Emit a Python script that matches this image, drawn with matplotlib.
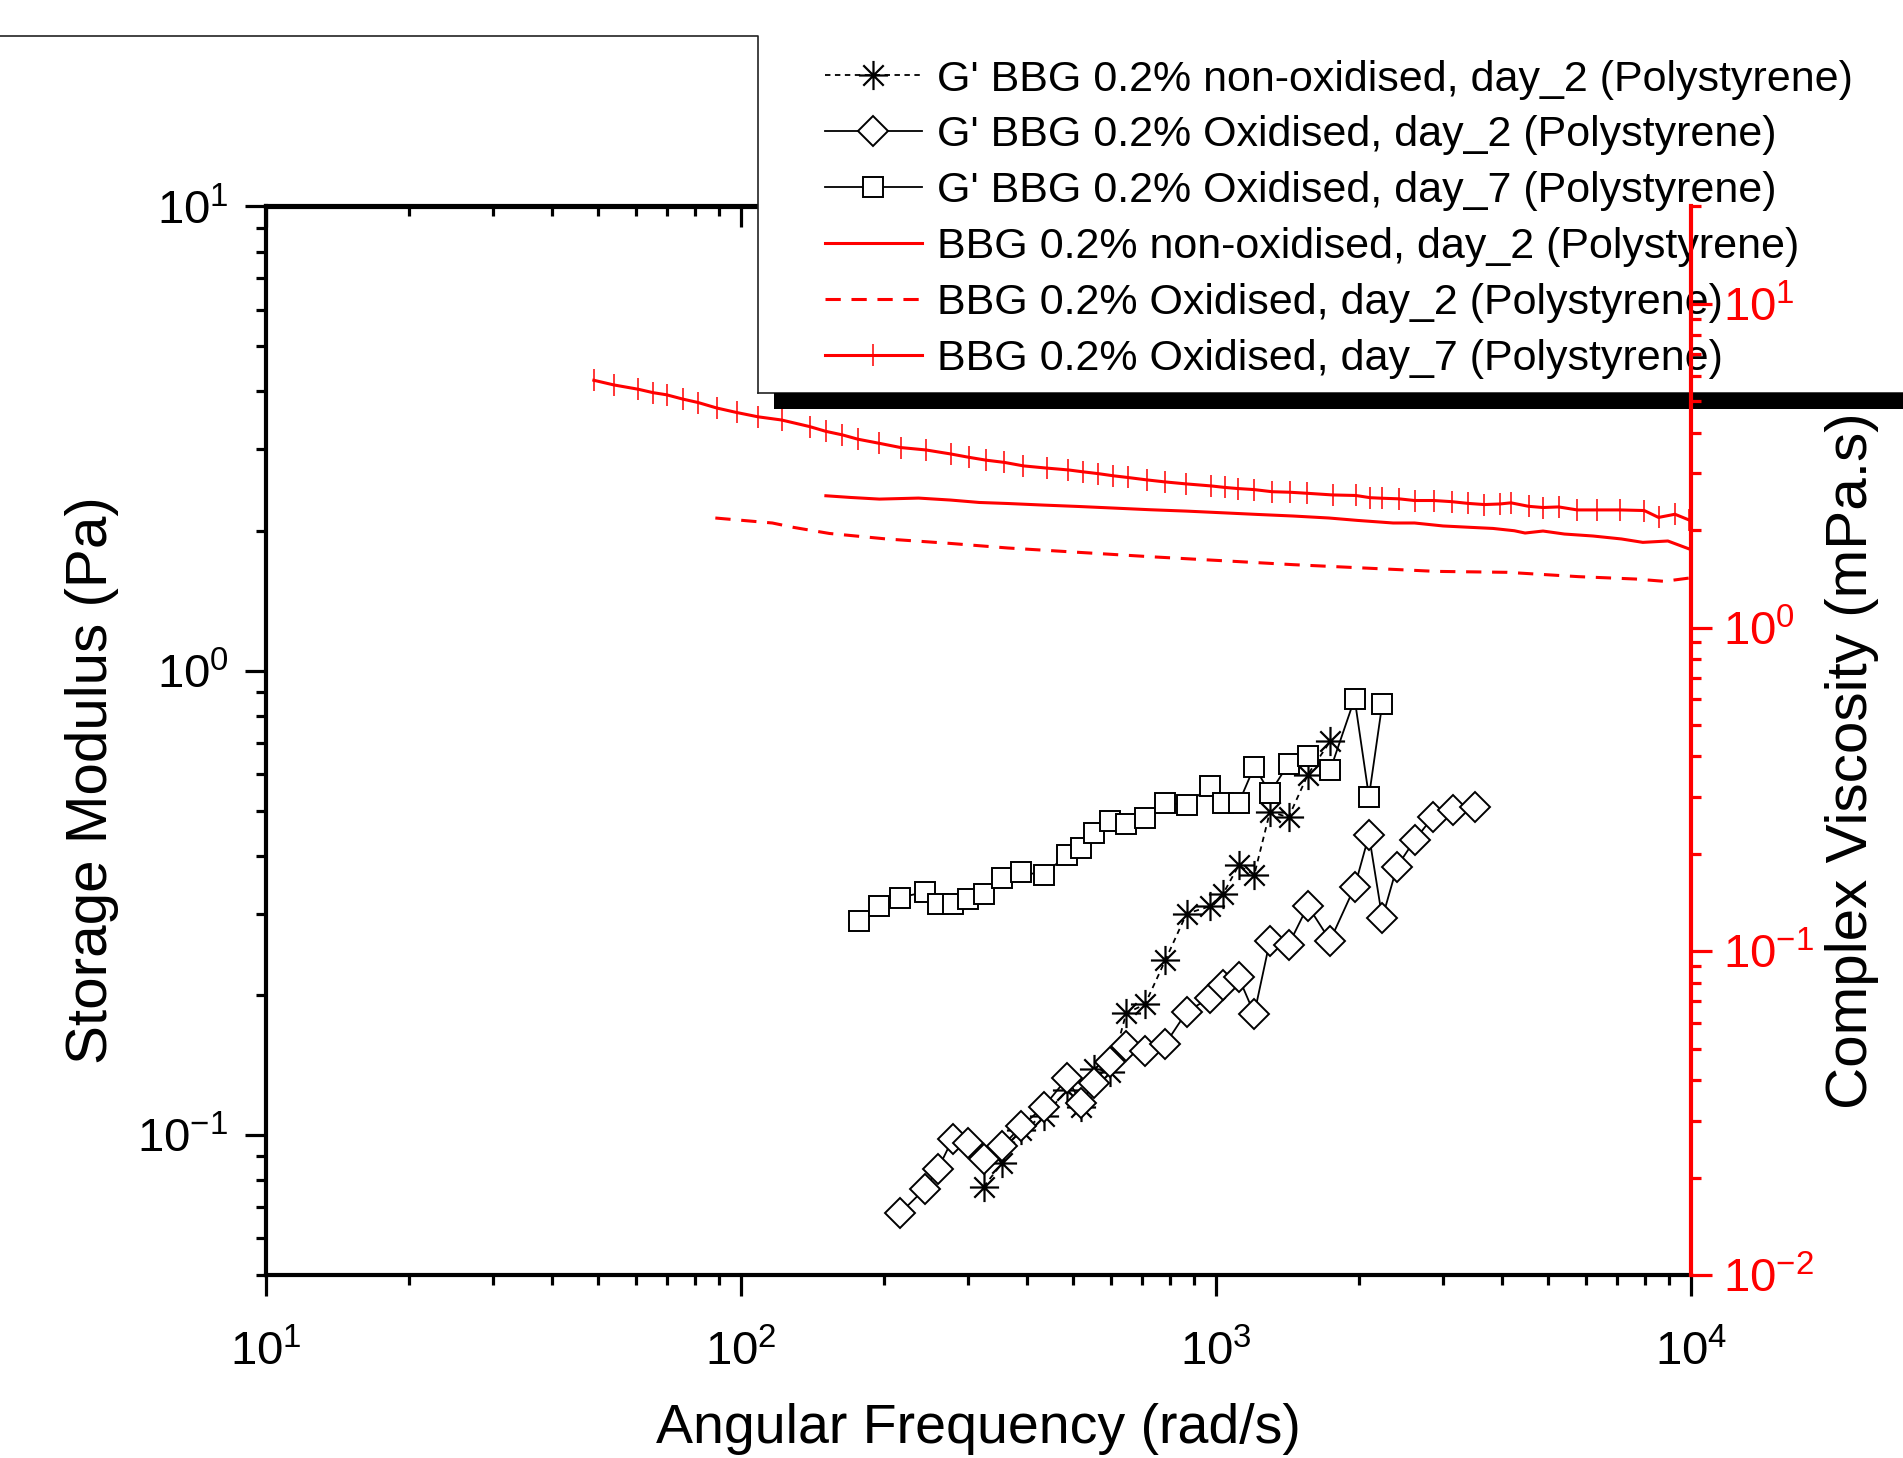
import numpy as np
import matplotlib
matplotlib.use('Agg')
import matplotlib.pyplot as plt
from matplotlib.path import Path
from matplotlib.lines import Line2D
from matplotlib.patches import Rectangle
from matplotlib.ticker import LogLocator, NullFormatter

plt.rcParams['font.family'] = ['Liberation Sans', 'DejaVu Sans']
plt.rcParams['mathtext.default'] = 'regular'
plt.rcParams['axes.unicode_minus'] = False

# ---- storage modulus G' (Pa) ----
w_star = [324, 355, 389, 434, 486, 520, 553, 599, 647, 709, 782, 867, 970, 1035,
          1116, 1204, 1299, 1422, 1561, 1739]
g_star = [0.0774, 0.0872, 0.1025, 0.110, 0.125, 0.115, 0.139, 0.137, 0.183, 0.1915,
          0.238, 0.300, 0.311, 0.331, 0.381, 0.364, 0.497, 0.484, 0.598, 0.705]

w_dia = [216, 244, 260, 279, 300, 324, 355, 389, 434, 486, 520, 553, 599, 647, 709,
         782, 867, 970, 1035, 1116, 1204, 1299, 1422, 1561, 1739, 1958, 2099, 2239,
         2405, 2623, 2859, 3151, 3511]
g_dia = [0.0679, 0.0767, 0.0847, 0.0982, 0.0960, 0.0888, 0.0948, 0.1045, 0.1152,
         0.1327, 0.1173, 0.1293, 0.1438, 0.1557, 0.1516, 0.1571, 0.1842, 0.1978,
         0.2103, 0.2188, 0.1826, 0.2625, 0.2571, 0.3118, 0.2625, 0.3424, 0.4427,
         0.2935, 0.3790, 0.4328, 0.4839, 0.5012, 0.5102]

w_sq = [177, 195, 216, 244, 260, 279, 300, 324, 355, 389, 434, 486, 520, 553, 599,
        647, 709, 782, 867, 970, 1035, 1116, 1204, 1299, 1422, 1561, 1739, 1958,
        2099, 2239]
g_sq = [0.289, 0.312, 0.325, 0.334, 0.314, 0.315, 0.322, 0.330, 0.358, 0.368, 0.364,
        0.402, 0.415, 0.447, 0.474, 0.467, 0.482, 0.520, 0.515, 0.564, 0.519, 0.519,
        0.622, 0.546, 0.631, 0.654, 0.611, 0.871, 0.536, 0.850]

# ---- complex viscosity (mPa.s) ----
w_n2 = [150.9, 170.3, 195.6, 236.5, 276.3, 317.3, 364.6, 433.4, 515.2, 612.3, 727.8,
        865, 1029, 1223, 1454, 1729, 1986, 2360, 2618, 3007, 3453, 3830, 4248, 4474,
        4880, 5413, 6216, 7138, 7917, 8940, 9913]
eta_n2 = [2.555, 2.524, 2.495, 2.513, 2.478, 2.436, 2.418, 2.391, 2.367, 2.340, 2.313,
          2.291, 2.264, 2.237, 2.212, 2.181, 2.144, 2.105, 2.105, 2.061, 2.040, 2.025,
          1.992, 1.960, 1.988, 1.946, 1.919, 1.879, 1.834, 1.852, 1.750]

w_o2 = [88.3, 116.4, 129.1, 153.5, 202.4, 276.3, 364.6, 515.2, 727.8, 1029, 1454,
        2055, 2904, 4105, 5800, 7649, 8785, 9913]
eta_o2 = [2.181, 2.105, 2.040, 1.954, 1.879, 1.820, 1.762, 1.708, 1.656, 1.610, 1.565,
          1.528, 1.492, 1.482, 1.437, 1.413, 1.390, 1.423]

w_o7 = [49.0, 54.0, 60.8, 65.3, 69.7, 75.5, 81.2, 88.9, 97.9, 108.6, 121.7, 139.4,
        150.9, 163.4, 176.3, 195.6, 216.9, 244.8, 276.3, 301.4, 328.6, 358.2, 393.2,
        441, 489.1, 524.2, 565.5, 608, 651.7, 715.5, 780.1, 865, 976.6, 1046, 1110,
        1202, 1311, 1429, 1558, 1759, 1970, 2111, 2240, 2426, 2618, 2874, 3134, 3393,
        3673, 3963, 4176, 4553, 4880, 5264, 5761, 6326, 7089, 7973, 8544, 9252, 9913]
eta_o7 = [5.81, 5.62, 5.45, 5.32, 5.24, 5.08, 4.96, 4.77, 4.62, 4.48, 4.38, 4.18, 4.04,
          3.94, 3.82, 3.71, 3.60, 3.54, 3.44, 3.36, 3.29, 3.24, 3.16, 3.11, 3.07, 3.03,
          2.99, 2.945, 2.91, 2.86, 2.82, 2.78, 2.74, 2.71, 2.69, 2.67, 2.63, 2.62, 2.60,
          2.57, 2.56, 2.52, 2.51, 2.50, 2.47, 2.47, 2.45, 2.42, 2.40, 2.41, 2.43, 2.37,
          2.35, 2.36, 2.31, 2.31, 2.31, 2.30, 2.19, 2.24, 2.15]

labels = ["G' BBG 0.2% non-oxidised, day_2 (Polystyrene)",
          "G' BBG 0.2% Oxidised, day_2 (Polystyrene)",
          "G' BBG 0.2% Oxidised, day_7 (Polystyrene)",
          "BBG 0.2% non-oxidised, day_2 (Polystyrene)",
          "BBG 0.2% Oxidised, day_2 (Polystyrene)",
          "BBG 0.2% Oxidised, day_7 (Polystyrene)"]

W, H = 1903, 1458
fig = plt.figure(figsize=(W / 100, H / 100), dpi=100)
ax = fig.add_axes([266 / W, 1 - 1275 / H, 1425 / W, 1068.5 / H])
ax2 = ax.twinx()
ax2.set_zorder(1)

# asterisk marker (origin style star)
star = Path([(-1, 0), (1, 0), (0, -1), (0, 1), (-0.7, -0.7), (0.7, 0.7), (-0.7, 0.7), (0.7, -0.7)],
            [Path.MOVETO, Path.LINETO] * 4)

h1, = ax.plot(w_star, g_star, color='k', lw=1.3, dashes=(3, 2.5), marker=star, ms=21,
              mew=1.6, mfc='none', mec='k')
h2, = ax.plot(w_dia, g_dia, color='k', lw=1.3, marker='D', ms=15, mfc='white',
              mec='k', mew=1.4)
h3, = ax.plot(w_sq, g_sq, color='k', lw=1.3, marker='s', ms=15, mfc='white',
              mec='k', mew=1.4)

r1, = ax2.plot(w_n2, eta_n2, color='red', lw=2.2)
r2, = ax2.plot(w_o2, eta_o2, color='red', lw=2.2, dashes=(5, 3.5))
r3, = ax2.plot(w_o7, eta_o7, color='red', lw=2.2, marker='|', ms=15.5, mew=1.1)

ax.set_xscale('log')
ax.set_yscale('log')
ax.set_xlim(10, 1e4)
ax.set_ylim(0.05, 10)
ax2.set_yscale('log')
ax2.set_ylim(0.01, 20)

for a in (ax.xaxis, ax.yaxis, ax2.yaxis):
    a.set_major_locator(LogLocator(base=10, numticks=20))
    a.set_minor_locator(LogLocator(base=10, subs=np.arange(2, 10), numticks=100))
    a.set_minor_formatter(NullFormatter())

ax.tick_params(axis='both', which='both', direction='out', top=False, right=False,
               labelsize=34, width=2.3, colors='k')
ax.tick_params(which='major', length=15)
ax.tick_params(which='minor', length=7.5)
ax.tick_params(axis='x', pad=25)
ax.tick_params(axis='y', pad=12)

ax2.tick_params(axis='y', which='both', direction='out', colors='red', labelsize=34,
                width=2.3, pad=8)
ax2.tick_params(which='major', length=15)
ax2.tick_params(which='minor', length=7.5)

for s in ['left', 'bottom', 'top']:
    ax.spines[s].set_linewidth(3)
ax.spines['right'].set_visible(False)
for s in ['left', 'bottom', 'top']:
    ax2.spines[s].set_visible(False)
ax2.spines['right'].set_color('red')
ax2.spines['right'].set_linewidth(3)

# top axis with inward ticks
sec = ax.secondary_xaxis('top')
sec.xaxis.set_minor_locator(LogLocator(base=10, subs=np.arange(2, 10), numticks=100))
sec.xaxis.set_minor_formatter(NullFormatter())
sec.tick_params(axis='x', which='both', direction='in', labeltop=False, width=2.3)
sec.tick_params(which='major', length=15)
sec.tick_params(which='minor', length=7.5)
sec.spines['top'].set_linewidth(3)

ax.set_xlabel('Angular Frequency (rad/s)', fontsize=40)
ax.xaxis.set_label_coords(0.5, -0.12)
ax.set_ylabel('Storage Modulus (Pa)', fontsize=42)
ax.yaxis.set_label_coords(-0.103, 0.463)
ax2.set_ylabel('Complex Viscosity (mPa.s)', fontsize=42, color='k')
ax2.yaxis.set_label_coords(1.094, 0.481)

# legend box with shadow, as in the original export
fig.add_artist(Rectangle((758 / W, 1 - 392.5 / H), (W - 758) / W, (392.5 - 36) / H,
                         transform=fig.transFigure, facecolor='white', edgecolor='none',
                         zorder=0.5))
fig.add_artist(Line2D([0, 758 / W, 758 / W], [1 - 36 / H, 1 - 36 / H, 1 - 392.5 / H],
                      transform=fig.transFigure, color='#222222', lw=1.2, zorder=0.55))
fig.add_artist(Line2D([758 / W, 1], [1 - 392.5 / H, 1 - 392.5 / H],
                      transform=fig.transFigure, color='#222222', lw=1.2, zorder=0.55))
fig.add_artist(Rectangle((774 / W, 1 - 409 / H), (W - 774) / W, 16 / H,
                         transform=fig.transFigure, facecolor='black', edgecolor='none',
                         zorder=0.55))

leg = fig.legend([h1, h2, h3, r1, r2, r3], labels, loc='upper left',
                 bbox_to_anchor=(825 / W, 1 - 59.5 / H), frameon=False, fontsize=31,
                 handlelength=2.25, handletextpad=0.35, labelspacing=0.37,
                 borderpad=0, borderaxespad=0, numpoints=1)
leg.set_zorder(0.6)

fig.savefig('out.png', dpi=100)
